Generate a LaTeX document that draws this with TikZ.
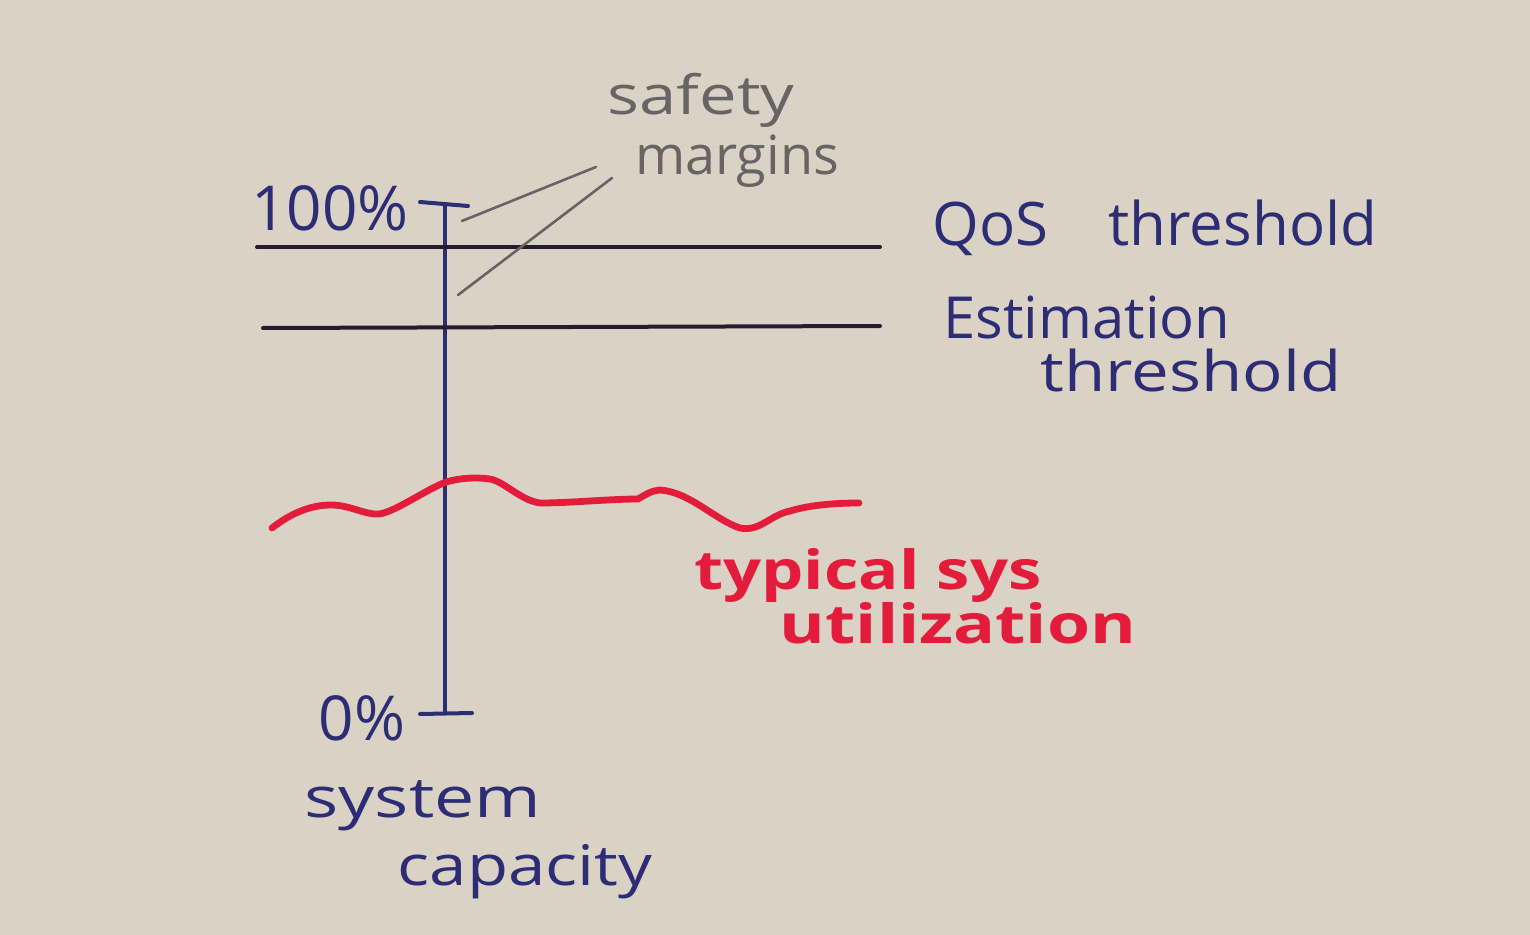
\documentclass[tikz,border=0pt]{standalone}
\usepackage{fontspec}
\setmainfont{Open Sans}
\definecolor{paper}{RGB}{218,211,197}
\definecolor{ink}{RGB}{45,45,118}
\definecolor{dark}{RGB}{38,28,48}
\definecolor{pencil}{RGB}{105,100,100}
\definecolor{redink}{RGB}{226,28,58}
\newcommand{\hwide}[2]{\scalebox{#1}[1]{#2}}
\tikzset{
  lbl/.style={inner sep=0pt, font=\fontsize{28}{32}\selectfont},
  bluelbl/.style={lbl, text=ink},
  graylbl/.style={lbl, text=pencil, font=\fontsize{27}{31}\selectfont},
  redlbl/.style={lbl, text=redink, font=\bfseries\fontsize{27}{31}\selectfont},
  axisline/.style={draw=ink, line width=2pt, line cap=round},
  thresh/.style={draw=dark, line width=2pt, line cap=round},
  pointer/.style={draw=pencil, line width=1.3pt, line cap=round},
  usage/.style={draw=redink, line width=3.4pt, line cap=round, line join=round},
}
\begin{document}
\begin{tikzpicture}[x=0.5pt,y=-0.5pt]
\fill[paper] (0,0) rectangle (1530,935);
\useasboundingbox (0,0) rectangle (1530,935);

% axis
\coordinate (top) at (445,205);
\coordinate (bot) at (445,713);
\coordinate (topL) at (420,202);
\coordinate (topR) at (468,206);
\coordinate (botL) at (420,714);
\coordinate (botR) at (472,713);
\draw[axisline] (top) -- (bot);
\draw[axisline] (topL) -- (topR);
\draw[axisline] (botL) -- (botR);

% thresholds
\coordinate (q1) at (257,247);
\coordinate (q2) at (880,247);
\coordinate (e1) at (263,328);
\coordinate (e2) at (880,326);
\draw[thresh] (q1) -- (q2);
\draw[thresh] (e1) -- (e2);

% labels
\node[bluelbl, font=\fontsize{31}{36}\selectfont] (p100) at (330,208) {100\%};
\node[bluelbl, font=\fontsize{31}{36}\selectfont] (p0) at (362,718) {0\%};
\node[bluelbl, font=\fontsize{30}{35}\selectfont] (qos) at (1155,228) {QoS\hspace{1em}threshold};
\node[bluelbl, font=\fontsize{29}{33}\selectfont] (est1) at (1087,318) {Estimation};
\node[bluelbl] (est2) at (1191,371) {\hwide{1.2}{threshold}};
\node[bluelbl] (sys1) at (423,806) {\hwide{1.28}{system}};
\node[bluelbl] (sys2) at (525,872) {\hwide{1.2}{capacity}};

% safety margins
\node[graylbl] (saf) at (701,100) {\hwide{1.24}{safety}};
\node[graylbl] (mar) at (737,161) {margins};
\coordinate (m1a) at (462,221);
\coordinate (m1b) at (596,167);
\coordinate (m2a) at (458,295);
\coordinate (m2b) at (612,178);
\draw[pointer] (m1a) -- (m1b);
\draw[pointer] (m2a) -- (m2b);

% typical utilization
\draw[usage] (272,528) .. controls (295,510) and (315,505) .. (331,505)
  .. controls (350,505) and (365,515) .. (379,514)
  .. controls (395,512) and (425,490) .. (446,482)
  .. controls (460,478) and (475,477) .. (490,479)
  .. controls (505,482) and (520,500) .. (540,503)
  .. controls (570,503) and (610,499) .. (638,499)
  .. controls (645,495) and (650,491) .. (660,490)
  .. controls (690,492) and (715,520) .. (740,528)
  .. controls (760,532) and (770,515) .. (790,511)
  .. controls (810,505) and (835,503) .. (859,503);
\node[redlbl] (typ) at (868,575) {\hwide{1.24}{typical sys}};
\node[redlbl] (util) at (958,623) {\hwide{1.29}{utilization}};
\end{tikzpicture}
\end{document}
